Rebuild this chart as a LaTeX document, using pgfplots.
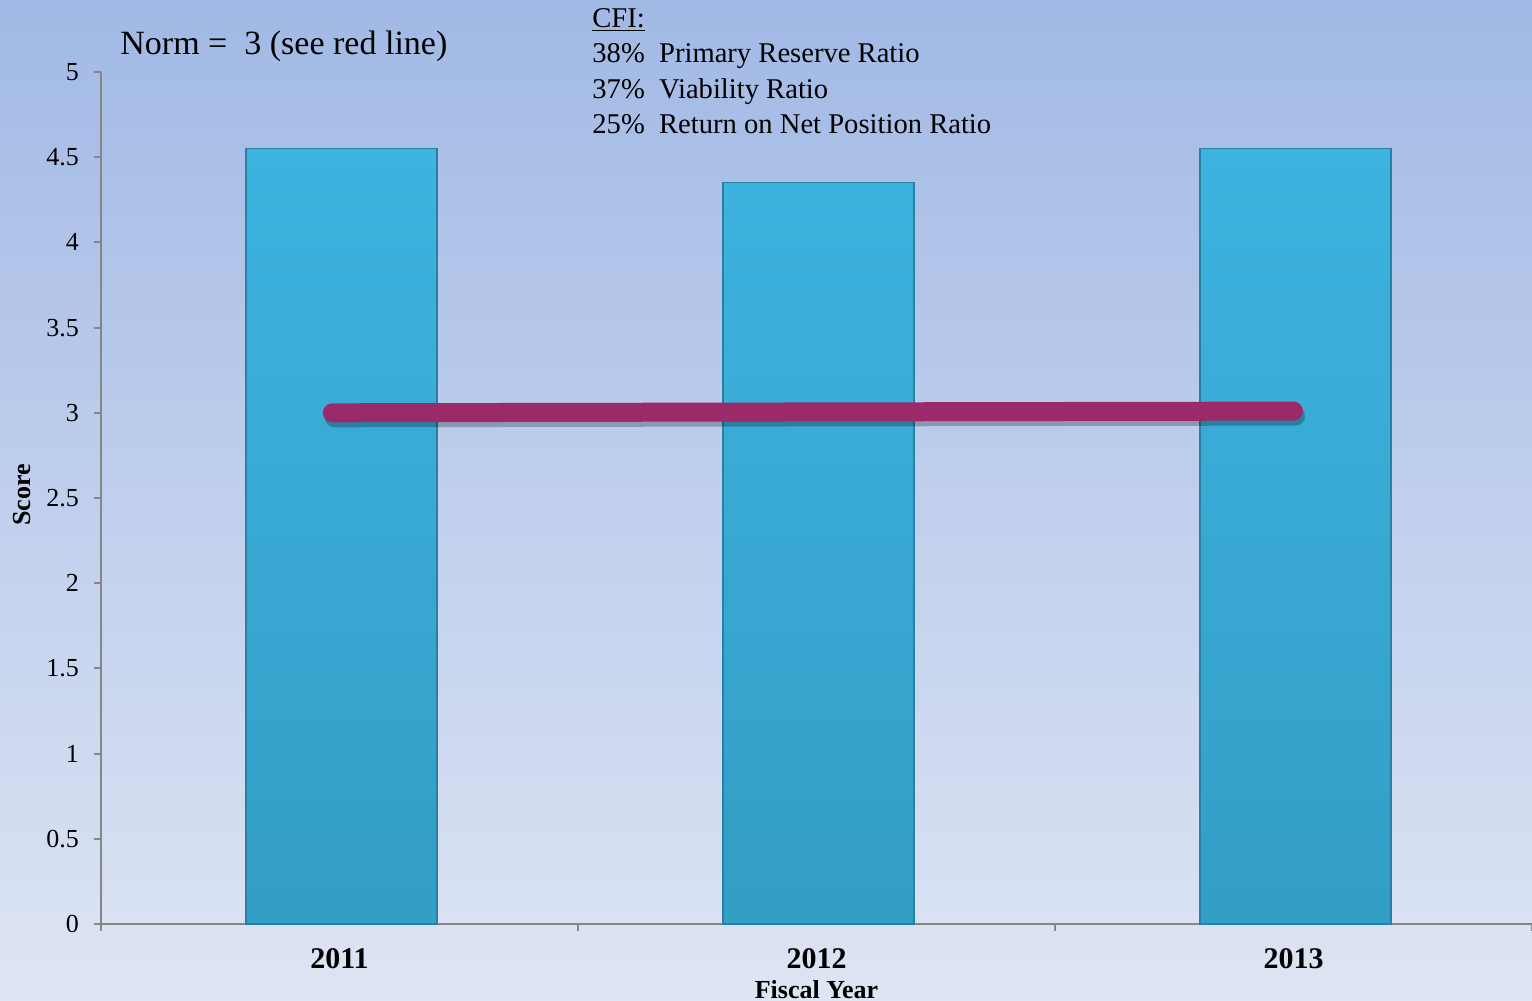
\documentclass[border=0pt]{standalone}
\usepackage{pgfplots}
\pgfplotsset{compat=1.18}
\usepackage{fontspec}
\setmainfont{Liberation Serif}
\definecolor{bgtop}{RGB}{161,185,229}
\definecolor{bgbot}{RGB}{222,229,244}
\definecolor{bartop}{RGB}{61,179,223}
\definecolor{barbot}{RGB}{51,158,198}
\definecolor{baredge}{RGB}{40,128,162}
\definecolor{normline}{RGB}{155,42,107}
\definecolor{axgray}{RGB}{134,134,134}
\begin{document}
\begin{tikzpicture}
\clip (-50.5pt,-38.5pt) rectangle (715.5pt,462pt);
\shade[top color=bgtop, bottom color=bgbot] (-50.5pt,-38.5pt) rectangle (715.5pt,462pt);
\begin{axis}[
  at={(0,0)}, anchor=south west,
  scale only axis, width=715.5pt, height=426pt,
  xmin=-0.5, xmax=2.5, ymin=0, ymax=5,
  clip=false,
  axis x line=bottom, axis y line=left,
  axis line style={-, draw=axgray, line width=1.3pt},
  tick align=outside,
  tick style={draw=axgray, line width=1pt},
  major tick length=3.5pt, minor tick length=3.5pt,
  xtick={0,1,2}, xticklabels={2011,2012,2013},
  major x tick style={draw=none},
  minor xtick={-0.5,0.5,1.5,2.5},
  ytick={0,0.5,1,1.5,2,2.5,3,3.5,4,4.5,5},
  /pgf/number format/assume math mode=true,
  yticklabel style={font=\fontsize{13}{15}\selectfont, xshift=-4pt},
  xticklabel style={font=\fontsize{15}{18}\selectfont\bfseries, yshift=-5pt},
]
\addplot[ybar, bar width=0.4, bar shift=1pt, draw=baredge, line width=0.7pt, top color=bartop, bottom color=barbot]
  coordinates {(0,4.55) (1,4.35) (2,4.55)};
\addplot[draw=black, opacity=0.25, line width=9.5pt, line cap=round, yshift=-2.5pt, xshift=1pt]
  coordinates {(-0.015,3.0) (2.0,3.01)};
\addplot[draw=normline, line width=9.5pt, line cap=round]
  coordinates {(-0.015,3.0) (2.0,3.01)};
\node[font=\fontsize{13}{15}\selectfont\bfseries] at (axis cs:1,0) [yshift=-33pt] {Fiscal Year};
\node[font=\fontsize{13}{15}\selectfont\bfseries, xshift=-39.5pt, yshift=1.5pt, rotate=90] at (rel axis cs:0,0.5) {Score};
\node[font=\fontsize{17}{19}\selectfont, anchor=west, inner sep=0pt] at (rel axis cs:0,1) [xshift=9.5pt, yshift=13pt] {Norm =\ \ 3 (see red line)};
\node[font=\fontsize{14.3}{17.75}\selectfont, anchor=north west, align=left, inner sep=0pt] at (rel axis cs:0,1) [xshift=245.5pt, yshift=32pt]
  {\underline{CFI:}\\38\%\ \ Primary Reserve Ratio\\37\%\ \ Viability Ratio\\25\%\ \ Return on Net Position Ratio};
\end{axis}
\end{tikzpicture}
\end{document}
